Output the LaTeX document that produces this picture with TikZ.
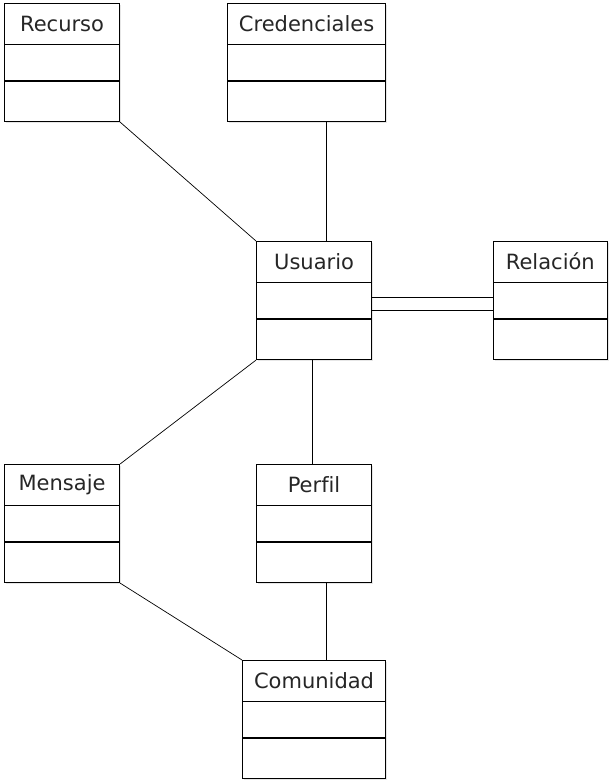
\documentclass[tikz,border=0pt]{standalone}
\usepackage{fontspec}
\setmainfont{DejaVu Sans}[Ligatures=NoCommon]
\usetikzlibrary{shadows}

\tikzset{
	clase/.style={rectangle, draw=black, line width=1.1pt, fill=white, minimum height=118pt, inner sep=0pt,
		drop shadow={opacity=0.2, shadow xshift=1.5pt, shadow yshift=-1.5pt}},
	titulo/.style={minimum height=41pt, inner sep=0pt, text=black!85, font=\fontsize{21}{25}\selectfont},
	conector/.style={line width=0.7pt, black}
}

\begin{document}
\begin{tikzpicture}[x=1pt, y=-1pt]
	
	\useasboundingbox (0, 0) rectangle (608, 781);
	
	% clases: nombre / x / y / ancho / titulo
	\foreach \n/\x/\y/\w/\t in {recurso/4/3/115/Recurso, credenciales/227/3/158/Credenciales,
		usuario/256/241/115/Usuario, relacion/493/241/113.5/Relación,
		mensaje/4/464/115/Mensaje, perfil/256/464/115/Perfil,
		comunidad/242/660/143/Comunidad}
	{
		\node[clase, minimum width=\w pt, anchor=north west] (\n) at (\x, \y) {};
		\node[titulo, anchor=north] (\n-t) at (\n.north) {\t};
		\draw[line width=1.1pt] ([yshift=-41.5pt]\n.north west) -- ([yshift=-41.5pt]\n.north east);
		\draw[line width=1.1pt] ([yshift=-78pt]\n.north west) -- ([yshift=-78pt]\n.north east);
	}
	
	\coordinate (uc) at ([xshift=12.5pt]usuario.north);
	\coordinate (ur1) at ([yshift=3pt]usuario.east);
	\coordinate (ur2) at ([yshift=-10pt]usuario.east);
	\coordinate (pc) at ([xshift=12pt]perfil.south);
	
	\path[conector] (recurso.south east) edge (usuario.north west);
	\path[conector] (uc) edge (uc |- credenciales.south);
	\path[conector] (ur1) edge (ur1 -| relacion.west);
	\path[conector] (ur2) edge (ur2 -| relacion.west);
	\path[conector] (usuario.south west) edge (mensaje.north east);
	\path[conector] ([xshift=-2pt]usuario.south) edge ([xshift=-2pt]perfil.north);
	\path[conector] (mensaje.south east) edge (comunidad.north west);
	\path[conector] (pc) edge (pc |- comunidad.north);
	
\end{tikzpicture}
\end{document}
